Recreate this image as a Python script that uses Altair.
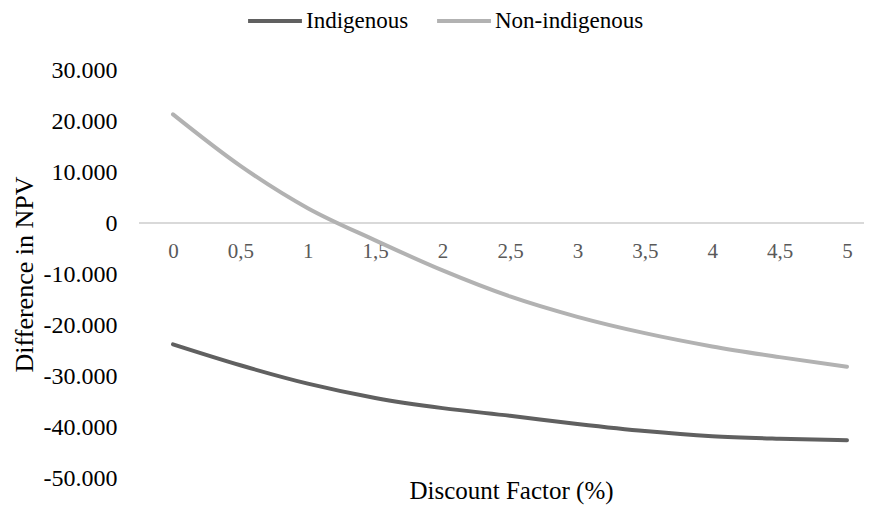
import altair as alt
import pandas as pd

rates = ["0", "0,5", "1", "1,5", "2", "2,5", "3", "3,5", "4", "4,5", "5"]
indigenous = [-23800, -27900, -31500, -34300, -36300, -37800, -39400, -40800, -41800, -42300, -42600]
non_indigenous = [21300, 11200, 2900, -3400, -9300, -14400, -18400, -21600, -24200, -26300, -28200]
series_names = ["Indigenous", "Non-indigenous"]
series_colors = ["#606060", "#b2b2b2"]

rows = []
for r, v in zip(rates, indigenous):
    rows.append({"rate": r, "value": v, "series": series_names[0]})
for r, v in zip(rates, non_indigenous):
    rows.append({"rate": r, "value": v, "series": series_names[1]})
df = pd.DataFrame(rows)

FONT = "Liberation Serif"

label_expr = ("datum.value < 0 ? '-' + replace(format(-datum.value, ','), ',', '.') "
              ": replace(format(datum.value, ','), ',', '.')")

y_enc = alt.Y("value:Q",
              scale=alt.Scale(domain=[-50000, 30000], nice=False, zero=False),
              axis=alt.Axis(title="Difference in NPV", values=list(range(-50000, 30001, 10000)),
                            labelExpr=label_expr, ticks=False, grid=False, domain=False,
                            labelFont=FONT, labelFontSize=24, labelColor="#000000",
                            labelPadding=22, titleFont=FONT, titleFontSize=26,
                            titleFontWeight="normal", titleColor="#000000", titlePadding=6))

zero_rule = alt.Chart(df).mark_rule(color="#d9d9d9", strokeWidth=1.5).encode(
    y=alt.datum(0, type="quantitative")
)

lines = alt.Chart(df).mark_line(
    strokeWidth=4, strokeCap="round", interpolate="monotone"
).encode(
    x=alt.X("rate:O", sort=rates,
            scale=alt.Scale(type="point", padding=0, range=[34, 708]),
            axis=alt.Axis(title=None, orient="bottom", offset=-256, labelAngle=0,
                          ticks=False, grid=False, domain=False,
                          labelFont=FONT, labelFontSize=21, labelColor="#595959",
                          labelPadding=18)),
    y=y_enc,
    color=alt.Color("series:N",
                    scale=alt.Scale(domain=series_names, range=series_colors),
                    legend=alt.Legend(title=None, orient="none", direction="horizontal",
                                      legendX=107, legendY=-78,
                                      symbolType="stroke", symbolSize=2900,
                                      symbolStrokeWidth=4, labelFont=FONT,
                                      labelFontSize=23, labelColor="#000000",
                                      labelOffset=2, columnPadding=20)),
)

chart = alt.layer(zero_rule, lines).properties(
    width=725, height=408,
    title=alt.TitleParams("Discount Factor (%)", orient="bottom", anchor="middle",
                          font=FONT, fontSize=25, fontWeight="normal", color="#000000",
                          offset=-11, frame="group", dx=10),
    autosize=alt.AutoSizeParams(type="none"),
    padding={"left": 131, "top": 62, "right": 0, "bottom": 29},
).configure_view(stroke=None)

chart.save("out.html", embed_options={"renderer": "svg", "actions": False})
